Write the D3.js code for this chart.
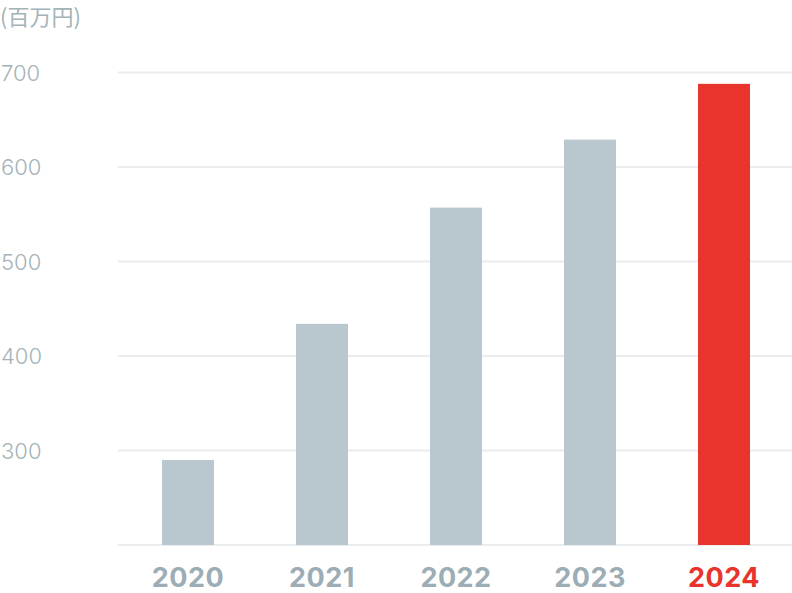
<!DOCTYPE html>
<html><head><meta charset="utf-8">
<script src="https://cdn.jsdelivr.net/npm/d3@7"></script>
<style>
body{margin:0;background:#fff;}
svg{display:block;}
</style></head>
<body>
<svg id="chart" width="792" height="593"></svg>
<script>
const years = ["2020","2021","2022","2023","2024"];
const values = [290, 434, 557, 629, 688];
const yTicks = [300, 400, 500, 600, 700];
const unitLabel = "(百万円)";
const highlightYear = "2024";

const svg = d3.select("#chart");
const left = 118, right = 792;
const y = d3.scaleLinear().domain([200, 700]).range([545, 72.5]);
const x = d3.scaleBand().domain(years).range([121, 791]).paddingInner(0.612).paddingOuter(0.306);

const gridG = svg.append("g");
gridG.selectAll("line").data([200, ...yTicks]).join("line")
  .attr("x1", left).attr("x2", right)
  .attr("y1", d => y(d)).attr("y2", d => y(d))
  .attr("stroke", "#ebeced").attr("stroke-width", 2);

const yAxis = d3.axisLeft(y).tickValues(yTicks).tickSize(0).tickPadding(0);
const ya = svg.append("g").call(yAxis);
ya.select(".domain").remove();
ya.selectAll("text")
  .attr("text-anchor", "start").attr("x", 1).attr("dy", "0.36em")
  .attr("fill", "#a4b3b7").style("font-family", "Inter, Roboto, sans-serif")
  .style("font-size", "22px").style("font-weight", 300);

svg.append("text").attr("x", 0).attr("y", 25).text(unitLabel)
  .attr("fill", "#a4b3b7").style("font-family", "'Noto Sans CJK JP', sans-serif")
  .style("font-size", "22px").style("font-weight", 400);

svg.append("g").selectAll("rect").data(years).join("rect")
  .attr("x", d => x(d)).attr("width", x.bandwidth())
  .attr("y", (d, i) => y(values[i])).attr("height", (d, i) => y(200) - y(values[i]))
  .attr("fill", d => d === highlightYear ? "#e8342d" : "#b9c7ce");

const xAxis = d3.axisBottom(x).tickSize(0).tickPadding(0);
const xa = svg.append("g").attr("transform", "translate(0,587)").call(xAxis);
xa.select(".domain").remove();
xa.selectAll("text")
  .attr("y", 0).attr("dy", 0)
  .attr("fill", d => d === highlightYear ? "#e8342d" : "#9cadb6")
  .style("font-family", "Inter, sans-serif")
  .style("font-size", "27px").style("font-weight", 700).style("letter-spacing", "0.5px");
</script>
</body></html>
